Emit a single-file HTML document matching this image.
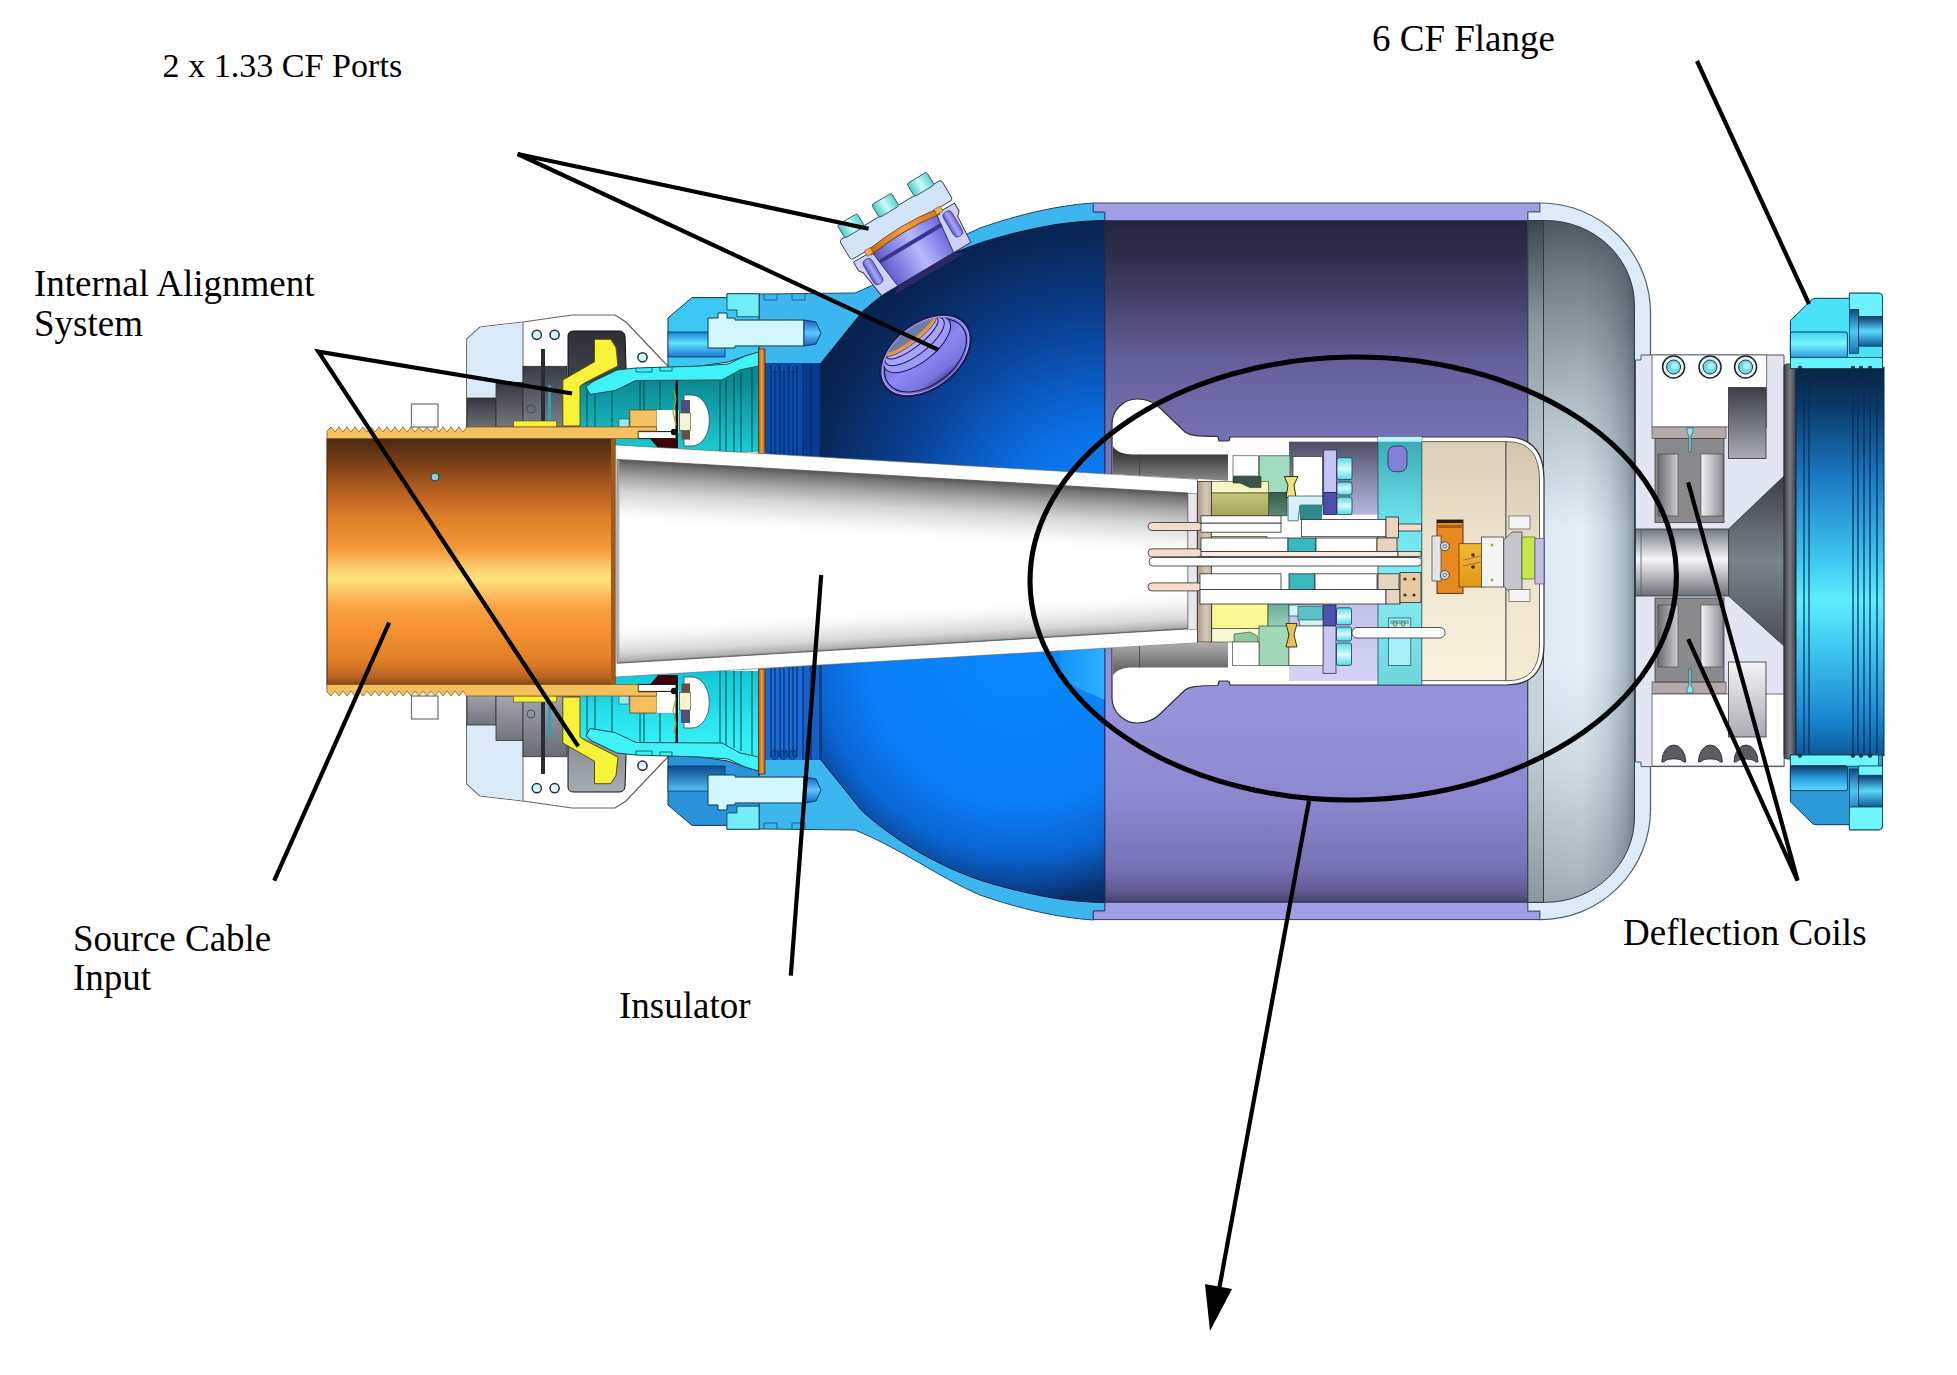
<!DOCTYPE html>
<html><head><meta charset="utf-8">
<style>
html,body{margin:0;padding:0;background:#fff;}
body{width:1957px;height:1375px;overflow:hidden;position:relative;}
svg{position:absolute;left:0;top:0;}
.t{font-family:"Liberation Serif",serif;font-size:37px;fill:#000;}
</style></head><body>
<svg width="1957" height="1375" viewBox="0 0 1957 1375">
<defs>
<linearGradient id="gOrange" x1="0" y1="438.5" x2="0" y2="684.5" gradientUnits="userSpaceOnUse">
<stop offset="0" stop-color="#4a2810"/><stop offset="0.1" stop-color="#7a4018"/><stop offset="0.217" stop-color="#b86020"/><stop offset="0.33" stop-color="#e08028"/><stop offset="0.45" stop-color="#f59838"/><stop offset="0.53" stop-color="#fcd070"/><stop offset="0.57" stop-color="#fde47a"/><stop offset="0.63" stop-color="#fcc060"/><stop offset="0.69" stop-color="#f8a040"/><stop offset="0.79" stop-color="#f49030"/><stop offset="0.9" stop-color="#e08028"/><stop offset="0.97" stop-color="#b86420"/><stop offset="1" stop-color="#8a4a18"/>
</linearGradient>
<linearGradient id="gIns" x1="0" y1="460" x2="0" y2="663" gradientUnits="userSpaceOnUse">
<stop offset="0" stop-color="#7a7a7a"/><stop offset="0.12" stop-color="#c4c4c4"/><stop offset="0.3" stop-color="#f4f4f4"/><stop offset="0.5" stop-color="#ffffff"/><stop offset="0.8" stop-color="#f4f4f4"/><stop offset="0.93" stop-color="#cfcfcf"/><stop offset="1" stop-color="#8a8a8a"/>
</linearGradient>
<linearGradient id="gPurple" x1="0" y1="221" x2="0" y2="902" gradientUnits="userSpaceOnUse">
<stop offset="0" stop-color="#25233c"/><stop offset="0.05" stop-color="#302d4c"/><stop offset="0.1" stop-color="#3e3a62"/><stop offset="0.15" stop-color="#524e80"/><stop offset="0.2" stop-color="#625e98"/><stop offset="0.27" stop-color="#706cac"/><stop offset="0.35" stop-color="#7874b6"/><stop offset="0.5" stop-color="#8480c4"/><stop offset="0.62" stop-color="#9490d8"/><stop offset="0.72" stop-color="#9894dc"/><stop offset="0.85" stop-color="#8c88d0"/><stop offset="0.95" stop-color="#7672b6"/><stop offset="0.985" stop-color="#5e5a90"/><stop offset="1" stop-color="#48446e"/>
</linearGradient>
<radialGradient id="gDome" cx="1100" cy="525" r="335" gradientUnits="userSpaceOnUse">
<stop offset="0" stop-color="#0a8aff"/><stop offset="0.3" stop-color="#0a6ee2"/><stop offset="0.6" stop-color="#0a4296"/><stop offset="0.85" stop-color="#08285a"/><stop offset="1" stop-color="#061c42"/>
</radialGradient>
<radialGradient id="gDomeB" cx="1020" cy="650" r="300" gradientUnits="userSpaceOnUse">
<stop offset="0" stop-color="#0a88ff"/><stop offset="0.55" stop-color="#0a7cf4"/><stop offset="0.8" stop-color="#0a58c0"/><stop offset="0.93" stop-color="#08367a"/><stop offset="1" stop-color="#082a62"/>
</radialGradient>
<linearGradient id="gDomeHi" x1="1040" y1="0" x2="1105" y2="0" gradientUnits="userSpaceOnUse"><stop offset="0" stop-color="#40d0ff" stop-opacity="0"/><stop offset="1" stop-color="#40d0ff" stop-opacity="0.6"/></linearGradient>
<radialGradient id="gCap" cx="1622" cy="590" r="1" gradientUnits="userSpaceOnUse" gradientTransform="translate(1622,590) scale(165,430) translate(-1622,-590)">
<stop offset="0" stop-color="#f2f9ff"/><stop offset="0.35" stop-color="#dae8f2"/><stop offset="0.65" stop-color="#a8b8c2"/><stop offset="0.85" stop-color="#7a8a94"/><stop offset="1" stop-color="#56646c"/>
</radialGradient>
<linearGradient id="gCapStrip" x1="0" y1="221" x2="0" y2="902" gradientUnits="userSpaceOnUse"><stop offset="0" stop-color="#3a4650"/><stop offset="0.15" stop-color="#8a98a0"/><stop offset="0.4" stop-color="#c8d4dc"/><stop offset="0.75" stop-color="#c8d4dc"/><stop offset="0.95" stop-color="#98a4ac"/><stop offset="1" stop-color="#8a969e"/></linearGradient>
<linearGradient id="gCapH" x1="1545" y1="0" x2="1635" y2="0" gradientUnits="userSpaceOnUse"><stop offset="0" stop-color="#e2eef8"/><stop offset="0.4" stop-color="#e8f4fc"/><stop offset="0.7" stop-color="#ccdce6"/><stop offset="0.9" stop-color="#a8b8c2"/><stop offset="1" stop-color="#8494a0"/></linearGradient>
<linearGradient id="gCapV" x1="0" y1="221" x2="0" y2="902" gradientUnits="userSpaceOnUse"><stop offset="0" stop-color="#26323a" stop-opacity="0.8"/><stop offset="0.08" stop-color="#26323a" stop-opacity="0.6"/><stop offset="0.26" stop-color="#26323a" stop-opacity="0.28"/><stop offset="0.45" stop-color="#26323a" stop-opacity="0.02"/><stop offset="0.65" stop-color="#26323a" stop-opacity="0.02"/><stop offset="0.8" stop-color="#26323a" stop-opacity="0.12"/><stop offset="0.95" stop-color="#26323a" stop-opacity="0.3"/><stop offset="1" stop-color="#26323a" stop-opacity="0.38"/></linearGradient>
<linearGradient id="gFlangeR" x1="0" y1="367" x2="0" y2="756" gradientUnits="userSpaceOnUse">
<stop offset="0" stop-color="#082440"/><stop offset="0.1" stop-color="#0a3a68"/><stop offset="0.28" stop-color="#1a78c0"/><stop offset="0.5" stop-color="#40c8f0"/><stop offset="0.6" stop-color="#5eeeff"/><stop offset="0.72" stop-color="#40c8f0"/><stop offset="0.9" stop-color="#1a88d0"/><stop offset="1" stop-color="#0a5a98"/>
</linearGradient>
<linearGradient id="gTube" x1="0" y1="529" x2="0" y2="596" gradientUnits="userSpaceOnUse">
<stop offset="0" stop-color="#707880"/><stop offset="0.45" stop-color="#f4f6f8"/><stop offset="1" stop-color="#6a7078"/>
</linearGradient>
<linearGradient id="gTeal" x1="0" y1="380" x2="0" y2="450" gradientUnits="userSpaceOnUse">
<stop offset="0" stop-color="#0a8890"/><stop offset="1" stop-color="#1ccad4"/>
</linearGradient>
<linearGradient id="gGreyV" x1="0" y1="0" x2="0" y2="1" >
<stop offset="0" stop-color="#4a4e58"/><stop offset="1" stop-color="#a0a4ae"/>
</linearGradient>
<!--EXTRA DEFS-->
<linearGradient id="gCream" x1="0" y1="441" x2="0" y2="681" gradientUnits="userSpaceOnUse">
<stop offset="0" stop-color="#dccfb6"/><stop offset="0.5" stop-color="#efe6d2"/><stop offset="1" stop-color="#faf2dc"/>
</linearGradient>
<linearGradient id="gCream2" x1="0" y1="441" x2="0" y2="681" gradientUnits="userSpaceOnUse">
<stop offset="0" stop-color="#d4c6ac"/><stop offset="0.5" stop-color="#ece2cc"/><stop offset="1" stop-color="#f6ecd4"/>
</linearGradient>
<linearGradient id="gDarkBlk" x1="0" y1="0" x2="0" y2="1"><stop offset="0" stop-color="#3a3e46"/><stop offset="1" stop-color="#a8acb4"/></linearGradient>
<linearGradient id="gLightBlk" x1="0" y1="0" x2="0" y2="1"><stop offset="0" stop-color="#f4f4f6"/><stop offset="1" stop-color="#a8acb4"/></linearGradient>
<linearGradient id="gCoilL" x1="0" y1="0" x2="1" y2="0"><stop offset="0" stop-color="#6a6e74"/><stop offset="1" stop-color="#c8ccd0"/></linearGradient>
<linearGradient id="gCoilR" x1="0" y1="0" x2="1" y2="0"><stop offset="0" stop-color="#f0f2f4"/><stop offset="1" stop-color="#8a8e94"/></linearGradient>
<linearGradient id="gCone" x1="0" y1="0" x2="0" y2="1"><stop offset="0" stop-color="#3a4048"/><stop offset="0.5" stop-color="#7a828a"/><stop offset="1" stop-color="#4a5058"/></linearGradient>
<linearGradient id="gPortCyl" x1="0" y1="0" x2="1" y2="0"><stop offset="0" stop-color="#5a56c8"/><stop offset="0.55" stop-color="#b8b8ff"/><stop offset="1" stop-color="#6a66d8"/></linearGradient>
<linearGradient id="gPortBolt" x1="0" y1="0" x2="1" y2="0"><stop offset="0" stop-color="#5a56c8"/><stop offset="0.5" stop-color="#a8a8f8"/><stop offset="1" stop-color="#6a66d8"/></linearGradient>
<linearGradient id="gBoltHead" x1="0" y1="0" x2="1" y2="0"><stop offset="0" stop-color="#50c8c8"/><stop offset="0.5" stop-color="#c8fcfc"/><stop offset="1" stop-color="#60d0d0"/></linearGradient>
<linearGradient id="gVp" x1="0" y1="-31" x2="0" y2="31" gradientUnits="userSpaceOnUse"><stop offset="0" stop-color="#5a56b4"/><stop offset="0.5" stop-color="#8c88f4"/><stop offset="0.85" stop-color="#7a76e0"/><stop offset="1" stop-color="#4a46a0"/></linearGradient>
<linearGradient id="gGreyV2" x1="0" y1="0" x2="0" y2="1"><stop offset="0" stop-color="#5a5e68"/><stop offset="1" stop-color="#9ea2ac"/></linearGradient>
<linearGradient id="gDarkBlk2" x1="0" y1="0" x2="0" y2="1"><stop offset="0" stop-color="#2e3038"/><stop offset="0.6" stop-color="#44464e"/><stop offset="1" stop-color="#70747c"/></linearGradient>
<linearGradient id="gFlBand" x1="0" y1="0" x2="0" y2="1"><stop offset="0" stop-color="#1a80d8"/><stop offset="0.45" stop-color="#5ee0ff"/><stop offset="1" stop-color="#1a74d0"/></linearGradient>
<linearGradient id="gBoltTip" x1="0" y1="0" x2="0" y2="1"><stop offset="0" stop-color="#1a60c8"/><stop offset="0.5" stop-color="#5ac8ff"/><stop offset="1" stop-color="#1a60c8"/></linearGradient>
<linearGradient id="gOrStrip" x1="0" y1="0" x2="1" y2="0"><stop offset="0" stop-color="#a85a10"/><stop offset="0.5" stop-color="#f0a040"/><stop offset="1" stop-color="#a85a10"/></linearGradient>
<linearGradient id="gCanGrey" x1="0" y1="454" x2="0" y2="481" gradientUnits="userSpaceOnUse"><stop offset="0" stop-color="#3a3a3a"/><stop offset="1" stop-color="#8a8a8a"/></linearGradient>
<linearGradient id="gCanGrey2" x1="0" y1="668" x2="0" y2="641" gradientUnits="userSpaceOnUse"><stop offset="0" stop-color="#6a6a6a"/><stop offset="1" stop-color="#b4b4b4"/></linearGradient>
<radialGradient id="gDomeBM" cx="1020" cy="473" r="255" gradientUnits="userSpaceOnUse">
<stop offset="0" stop-color="#0a8aff"/><stop offset="0.6" stop-color="#0a7ef6"/><stop offset="0.8" stop-color="#0a66d4"/><stop offset="0.9" stop-color="#0a4a9e"/><stop offset="1" stop-color="#082c64"/>
</radialGradient>
<linearGradient id="gBotBlk" x1="0" y1="0" x2="0" y2="1"><stop offset="0" stop-color="#a8acb4"/><stop offset="0.5" stop-color="#8a8e98"/><stop offset="1" stop-color="#60646e"/></linearGradient>
<linearGradient id="gLavTop" x1="0" y1="0" x2="0" y2="1"><stop offset="0" stop-color="#4c4c66"/><stop offset="0.5" stop-color="#8686a8"/><stop offset="1" stop-color="#b6b6e2"/></linearGradient>
<linearGradient id="gLavBot" x1="0" y1="0" x2="0" y2="1"><stop offset="0" stop-color="#c0c0ea"/><stop offset="1" stop-color="#d4d4f6"/></linearGradient>
<linearGradient id="gTealCol" x1="0" y1="0" x2="0" y2="1"><stop offset="0" stop-color="#3aa8b4"/><stop offset="0.35" stop-color="#6ce4ee"/><stop offset="0.6" stop-color="#86ecf2"/><stop offset="1" stop-color="#70d4de"/></linearGradient>
<linearGradient id="gCyBlk" x1="0" y1="0" x2="0" y2="1"><stop offset="0" stop-color="#5ad8e4"/><stop offset="0.5" stop-color="#d8fcff"/><stop offset="1" stop-color="#5ad8e4"/></linearGradient>
<linearGradient id="gDkGreen" x1="0" y1="0" x2="0" y2="1"><stop offset="0" stop-color="#3a5a4a"/><stop offset="1" stop-color="#5a8a7a"/></linearGradient>
<linearGradient id="gOlive" x1="0" y1="0" x2="0" y2="1"><stop offset="0" stop-color="#c8c878"/><stop offset="1" stop-color="#a4a45a"/></linearGradient>
<linearGradient id="gTanBar" x1="0" y1="0" x2="1" y2="0"><stop offset="0" stop-color="#a8988a"/><stop offset="0.6" stop-color="#d8c8b8"/><stop offset="1" stop-color="#c0b0a0"/></linearGradient>
<linearGradient id="gAmber" x1="0" y1="0" x2="0" y2="1"><stop offset="0" stop-color="#f4b830"/><stop offset="1" stop-color="#e09818"/></linearGradient>
<linearGradient id="gTealB" x1="0" y1="380" x2="0" y2="450" gradientUnits="userSpaceOnUse"><stop offset="0" stop-color="#34f0f8"/><stop offset="1" stop-color="#12c8d8"/></linearGradient>
<linearGradient id="gFlBandB" x1="0" y1="0" x2="0" y2="1"><stop offset="0" stop-color="#50c0f0"/><stop offset="1" stop-color="#0a4a8e"/></linearGradient>
<linearGradient id="gFBoltT" x1="0" y1="0" x2="0" y2="1"><stop offset="0" stop-color="#40d2f2"/><stop offset="0.45" stop-color="#78f8ff"/><stop offset="1" stop-color="#2a9ede"/></linearGradient>
<linearGradient id="gFBoltB" x1="0" y1="0" x2="0" y2="1"><stop offset="0" stop-color="#0a3a68"/><stop offset="0.5" stop-color="#2a9ee0"/><stop offset="1" stop-color="#58dcff"/></linearGradient>
<linearGradient id="gFThread" x1="0" y1="0" x2="0" y2="1"><stop offset="0" stop-color="#0a4a88"/><stop offset="0.5" stop-color="#50c8f4"/><stop offset="1" stop-color="#1a70b8"/></linearGradient>
<linearGradient id="gFNut" x1="0" y1="0" x2="0" y2="1"><stop offset="0" stop-color="#0a3a70"/><stop offset="0.5" stop-color="#5ad8ff"/><stop offset="1" stop-color="#0a5a98"/></linearGradient>
<linearGradient id="gGasket" x1="0" y1="0" x2="1" y2="0"><stop offset="0" stop-color="#c06a10"/><stop offset="0.5" stop-color="#f4a040"/><stop offset="1" stop-color="#d07818"/></linearGradient>
<linearGradient id="gGT1" x1="0" y1="0" x2="0" y2="1"><stop offset="0" stop-color="#33373f"/><stop offset="1" stop-color="#74787f"/></linearGradient>
<linearGradient id="gGT2" x1="0" y1="0" x2="0" y2="1"><stop offset="0" stop-color="#383c46"/><stop offset="1" stop-color="#7c808a"/></linearGradient>
<linearGradient id="gGB1" x1="0" y1="0" x2="0" y2="1"><stop offset="0" stop-color="#70747c"/><stop offset="1" stop-color="#a4a8b0"/></linearGradient>
<linearGradient id="gGB2" x1="0" y1="0" x2="0" y2="1"><stop offset="0" stop-color="#686c76"/><stop offset="1" stop-color="#a0a4ae"/></linearGradient>
<linearGradient id="gTGreen" x1="0" y1="0" x2="0" y2="1"><stop offset="0" stop-color="#6aa898"/><stop offset="1" stop-color="#9ad4bc"/></linearGradient>
<linearGradient id="gSep" x1="0" y1="0" x2="1" y2="0"><stop offset="0" stop-color="#3a3e44"/><stop offset="0.5" stop-color="#7a7e84"/><stop offset="1" stop-color="#3a3e44"/></linearGradient>
<linearGradient id="gInsTop" gradientUnits="userSpaceOnUse" x1="0" y1="423.2" x2="0" y2="488" gradientTransform="skewY(3.36)"><stop offset="0" stop-color="#555555"/><stop offset="0.08" stop-color="#747474"/><stop offset="0.28" stop-color="#a8a8a8"/><stop offset="0.5" stop-color="#d6d6d6"/><stop offset="0.75" stop-color="#f2f2f2"/><stop offset="1" stop-color="#ffffff" stop-opacity="0"/></linearGradient>
<linearGradient id="gInsBot" gradientUnits="userSpaceOnUse" x1="0" y1="700.5" x2="0" y2="660" gradientTransform="skewY(-3.45)"><stop offset="0" stop-color="#7a7a7a"/><stop offset="0.05" stop-color="#b0b0b0"/><stop offset="0.25" stop-color="#d8d8d8"/><stop offset="0.55" stop-color="#f0f0f0"/><stop offset="1" stop-color="#ffffff" stop-opacity="0"/></linearGradient>
<!--END EXTRA DEFS-->
</defs>
<rect width="1957" height="1375" fill="#fff"/>
<!-- device goes here -->
<g id="device">
<g style="--dome:url(#gDome);--blk:url(#gDarkBlk2);--rib1:#0a4aa8;--rib2:#0a3a8e;--teal:url(#gTeal);--fl:#3cc8f2;--flb:url(#gFlBand);--g1:url(#gGT1);--g2:url(#gGT2)"><g id="top">
<!-- light blue dome shell -->
<path d="M 759,294 L 855,293 C 900,275 940,245 980,228 C 1020,214 1060,205 1093.3,203 L 1093.3,212 L 1105,212 L 1105,562 L 759,562 Z" fill="#3cb6ee" stroke="#1a4a70" stroke-width="1"/>
<path d="M 764,294 L 764,300 L 777,300 L 777,294 M 792,294 L 792,300 L 805,300 L 805,294" fill="none" stroke="#1a4a70" stroke-width="0.8"/>
<!-- dark dome interior -->
<path d="M 821,363 L 862,312 C 900,278 950,250 1000,237 C 1040,226 1070,221 1105,220.5 L 1105,562 L 821,562 Z" style="fill:var(--dome)" stroke="#0a1a40" stroke-width="1"/>
<!-- ribbed -->
<rect x="765" y="363" width="56" height="95" style="fill:var(--rib1)"/>
<rect x="803" y="363" width="18" height="95" style="fill:var(--rib2)"/>
<g fill="#0a5ac0" stroke="#062a60" stroke-width="0.8">
<path d="M 771,372 L 771,366 Q 774.5,361 778,366 L 778,372 Z"/><path d="M 780,372 L 780,366 Q 783.5,361 787,366 L 787,372 Z"/><path d="M 789,372 L 789,366 Q 792.5,361 796,366 L 796,372 Z"/>
</g>
<g stroke="#062a60" stroke-width="1.1">
<line x1="771" y1="366" x2="771" y2="458"/><line x1="775" y1="366" x2="775" y2="458"/><line x1="780" y1="366" x2="780" y2="458"/><line x1="784" y1="366" x2="784" y2="458"/><line x1="789" y1="366" x2="789" y2="458"/><line x1="793" y1="366" x2="793" y2="458"/><line x1="797" y1="366" x2="797" y2="458"/><line x1="803" y1="363" x2="803" y2="458"/><line x1="811" y1="363" x2="811" y2="458"/><line x1="820" y1="363" x2="820" y2="458"/>
</g>
<!-- alignment housing -->
<path d="M 466.7,432 L 466.7,339 L 480,327 L 523,322 L 572,315 L 615,315 L 626,322 L 662,360 L 668,366 L 668,432 Z" fill="#ffffff" stroke="#606060" stroke-width="1.2"/>
<path d="M 467.3,339.3 L 480.3,327.6 L 522.6,322.6 L 522.6,382.6 L 496,382.6 L 496,398.3 L 467.3,398.3 Z" fill="#daeaf8"/>
<line x1="523" y1="322" x2="523" y2="398" stroke="#606060" stroke-width="1"/>
<rect x="467" y="398" width="29" height="34" style="fill:var(--g1)" stroke="#303030" stroke-width="0.8"/>
<rect x="496" y="382.6" width="27" height="44.4" style="fill:var(--g1)" stroke="#303030" stroke-width="0.8"/>
<rect x="523" y="366.3" width="44" height="60.7" style="fill:var(--g2)" stroke="#303030" stroke-width="0.8"/>
<rect x="541" y="349" width="4" height="74" fill="#2a2c34"/>
<circle cx="531" cy="409" r="4" fill="none" stroke="#405060" stroke-width="1"/>
<rect x="548" y="385" width="3" height="38" fill="#30a0b0"/>
<path d="M 568,427 L 568,336 Q 568,331 574,331 L 619,331 Q 624,331 625,336 L 628,427 Z" style="fill:var(--blk)" stroke="#101010" stroke-width="1"/>
<g fill="#d8f8fc" stroke="#203040" stroke-width="1.5">
<circle cx="536.8" cy="334.8" r="4.6"/><circle cx="554.6" cy="334.8" r="4.6"/><circle cx="642.5" cy="357.3" r="4.6"/>
</g>
<!-- teal region -->
<path d="M 580,386 L 592,382 L 617,370 L 700,366 L 728,364 L 745,356 L 759,352 L 759,452 L 580,452 Z" style="fill:var(--teal)"/>
<g stroke="#064a4c" stroke-width="1">
<line x1="587" y1="386" x2="587" y2="427"/><line x1="595" y1="390" x2="595" y2="427"/><line x1="612" y1="390" x2="612" y2="427"/><line x1="640" y1="380" x2="640" y2="410"/><line x1="644" y1="380" x2="644" y2="410"/><line x1="660" y1="380" x2="660" y2="410"/><line x1="720" y1="380" x2="720" y2="452"/><line x1="726" y1="376" x2="726" y2="452"/><line x1="734" y1="375" x2="734" y2="452"/><line x1="741" y1="372" x2="741" y2="452"/><line x1="752" y1="368" x2="752" y2="452"/>
</g>
<!-- flange block -->
<path d="M 668,370 L 668,318 L 692,297.6 L 727,297.6 L 727,293.8 L 759,293.8 L 759,352 L 745,356 L 728,362 L 700,366 Z" style="fill:var(--fl)" stroke="#0a3a5a" stroke-width="1"/>
<rect x="668" y="332" width="57" height="25" style="fill:var(--flb)" stroke="#0a3a5a" stroke-width="0.8"/>
<path d="M 727,293.8 L 759,293.8 L 759,316.8 L 737,316.8 L 737,310 L 727,310 Z" fill="#72eef8" stroke="#0a3a5a" stroke-width="0.8"/>
<!-- cyan band -->
<path d="M 586,387 L 592,382 L 617,370 L 636,368 L 700,366 L 728,364 L 745,356 L 758.5,352 L 758.5,366 L 740,370 L 722,380 L 636,380.5 L 615,390.5 L 590,394.5 Z" fill="#3ef2f8" stroke="#0a4a50" stroke-width="1"/>
<path d="M 636,368 L 636,372 L 652,372 L 652,368 M 660,367 L 660,371 L 672,371 L 672,367" fill="none" stroke="#0a4a50" stroke-width="0.8"/>
<!-- bolt -->
<path d="M 708,318 L 718,318 L 718,313 L 727,313 L 727,318 L 735,318 L 735,320 L 804,320 L 804,346 L 735,346 L 735,348 L 708,348 Z" fill="#d2f8ff" stroke="#0a3a5a" stroke-width="1"/>
<path d="M 804,320 L 816,322 L 821,333 L 816,344 L 804,346 Z" fill="url(#gBoltTip)" stroke="#0a3a5a" stroke-width="1"/>
<path d="M 735,320 L 804,320 M 735,346 L 804,346" stroke="#5a7a8a" stroke-width="1.5" stroke-dasharray="1.5,1.5"/>
<!-- orange strip -->
<rect x="758.5" y="349" width="6.5" height="105" fill="url(#gOrStrip)" stroke="#5a3008" stroke-width="0.8"/>
<!-- yellow piece -->
<path d="M 594.5,339.3 L 610.8,339.3 L 616,347.5 L 618,366 L 586.3,382 L 580,386 L 580,426 L 562.8,426 L 562.8,380 L 594.5,361.8 Z" fill="#f8f238" stroke="#5a5000" stroke-width="1"/>
<rect x="513.7" y="421" width="43" height="6" fill="#f8f038" stroke="#5a5000" stroke-width="0.6"/>
<!-- small items near insulator top-left -->
<path d="M 629.8,410 L 656.6,410 L 656.6,427 L 629.8,427 Z" fill="#f4c060" stroke="#704010" stroke-width="0.8"/>
<rect x="619" y="419" width="10" height="8" fill="#a0e8f0" stroke="#305058" stroke-width="0.6"/>
<rect x="656.6" y="410" width="22" height="23" fill="#ffffff"/>
<rect x="638" y="431.6" width="38.6" height="7" fill="#ffffff" stroke="#101010" stroke-width="1"/>
<path d="M 650,438.6 L 676.6,438.6 L 676.6,448 L 658,448 Z" fill="#3c0608"/>

<path d="M 684,395 L 692,395 A 17,25 0 0 1 692,446 L 684,446 Z" fill="#ffffff" stroke="#404060" stroke-width="0.8"/>
<rect x="681" y="400" width="9" height="13" fill="#505078"/>
<rect x="679.6" y="413" width="11" height="17.4" fill="#f8f4d0" stroke="#404040" stroke-width="0.6"/>
<rect x="681.5" y="430.4" width="8.5" height="9.2" fill="#6a5040"/>
<rect x="675.5" y="380" width="2.5" height="68" fill="#101010"/>
<circle cx="674" cy="432" r="3.2" fill="#101010"/>
<path d="M 674,390 L 676,400 L 673,412 L 676,425" fill="none" stroke="#a0a020" stroke-width="1.2"/>
</g>
</g>
<use href="#top" transform="matrix(1,0,0,-1,0,1123)" style="--dome:url(#gDomeBM);--blk:url(#gBotBlk);--rib1:#1a6ad8;--rib2:#1560c8;--teal:url(#gTealB);--fl:#2a92da;--flb:url(#gFlBandB);--g1:url(#gGB1);--g2:url(#gGB2)"/>
<path d="M 1060,640 L 1105,640 L 1105,700 L 1060,680 Z" fill="url(#gDomeHi)"/>
<!-- purple cylinder -->
<rect x="1104.9" y="220.5" width="423" height="681.8" fill="url(#gPurple)" stroke="#2a2850" stroke-width="1"/>
<path d="M 1093.3,203 L 1539.8,203 L 1539.8,212 L 1527.8,212 L 1527.8,220.5 L 1104.9,220.5 L 1104.9,212 L 1093.3,212 Z" fill="#a29ee6" stroke="#3e3a70" stroke-width="1"/>
<path d="M 1093.3,919.6 L 1539.8,919.6 L 1539.8,911 L 1527.8,911 L 1527.8,902.3 L 1104.9,902.3 L 1104.9,911 L 1093.3,911 Z" fill="#a29ee6" stroke="#3e3a70" stroke-width="1"/>
<!-- end cap -->
<path d="M 1527.8,212 L 1539.8,212 L 1539.8,203 L 1540.5,203 A 110,110 0 0 1 1650.5,313 L 1650.5,809.6 A 110,110 0 0 1 1540.5,919.6 L 1539.8,919.6 L 1539.8,911 L 1527.8,911 Z" fill="#dcecf8" stroke="#506070" stroke-width="1.2"/>
<path d="M 1527.8,220.5 L 1545.5,220.5 A 89,85 0 0 1 1634.5,305.5 L 1634.5,817 A 89,85 0 0 1 1545.5,902.3 L 1527.8,902.3 Z" fill="url(#gCapH)"/>
<path d="M 1527.8,220.5 L 1545.5,220.5 A 89,85 0 0 1 1634.5,305.5 L 1634.5,817 A 89,85 0 0 1 1545.5,902.3 L 1527.8,902.3 Z" fill="url(#gCapV)" stroke="#303a44" stroke-width="1"/>
<rect x="1527.8" y="220.5" width="15.7" height="681.8" fill="url(#gCapStrip)" stroke="#303a44" stroke-width="1"/>
<!-- gun can -->
<path d="M 1112,456 L 1112,424 C 1112,410 1124,399 1137,399 C 1148,399 1155,403 1160,408 L 1185,432 C 1189,435 1195,436.5 1218,436.5 L 1219,441 L 1229,441 L 1230,437 L 1506,437 Q 1544,437 1544,479.5 L 1544,644.5 Q 1544,685 1506,685 L 1230,685 L 1229,681 L 1219,681 L 1218,685.5 C 1195,685.5 1189,687 1185,690 L 1160,714 C 1155,719 1148,723 1137,723 C 1124,723 1112,712 1112,698 L 1112,650 Z" fill="#ffffff" stroke="#303030" stroke-width="1.2"/>
<path d="M 1112.7,446 C 1116,452 1124,454.4 1133,454.4 L 1232.3,454.4 L 1232.3,481 L 1112.7,474 Z" fill="url(#gCanGrey)"/>
<path d="M 1112.7,676 C 1116,670 1124,667.6 1133,667.6 L 1232.3,667.6 L 1232.3,641 L 1112.7,648 Z" fill="url(#gCanGrey2)"/>
<line x1="1139.5" y1="454.4" x2="1139.5" y2="476" stroke="#404040" stroke-width="0.8"/>
<line x1="1139.5" y1="667.6" x2="1139.5" y2="646" stroke="#404040" stroke-width="0.8"/>
<!-- insulator white band + cone -->
<path d="M 612,444.7 L 1197.5,479.3 L 1197.5,642.8 L 612,677.2 Z" fill="#ffffff" stroke="#606060" stroke-width="0.6"/>
<path d="M 617,459.4 L 1188,493 L 1188,628.9 L 617,663.3 Z" fill="#ffffff"/>
<path d="M 617,459.4 L 1188,493 L 1188,628.9 L 617,663.3 Z" fill="url(#gInsTop)"/>
<path d="M 617,459.4 L 1188,493 L 1188,628.9 L 617,663.3 Z" fill="url(#gInsBot)" stroke="#505050" stroke-width="0.8"/>
<rect x="1188" y="493.5" width="9" height="136" fill="#e8e8ec" stroke="#707070" stroke-width="0.6"/>
<rect x="617" y="460" width="2.5" height="203" fill="#a0a0a0" opacity="0.7"/>
<!-- orange cylinder -->
<rect x="327" y="438.5" width="288" height="246" fill="url(#gOrange)" stroke="#5a3010" stroke-width="1.2"/>
<rect x="611" y="438.5" width="4" height="246" fill="#a05a18"/>
<!-- thread bands -->
<path d="M 327,438.5 L 327,431 L 331,427 L 335,432 L 339,427 L 343,432 L 347,427 L 351,432 L 355,427 L 359,432 L 363,427 L 367,432 L 371,427 L 375,432 L 379,427 L 383,432 L 387,427 L 391,432 L 395,427 L 399,432 L 403,427 L 407,432 L 411,427 L 415,432 L 419,427 L 423,432 L 427,427 L 431,432 L 435,427 L 439,432 L 443,427 L 447,432 L 451,427 L 455,432 L 459,427 L 463,432 L 467,427 L 656.6,427 L 656.6,431 L 638,431 L 638,438.5 Z" fill="#f5c060" stroke="#8a5a18" stroke-width="0.8"/>
<path d="M 327,684.5 L 327,692 L 331,696 L 335,691 L 339,696 L 343,691 L 347,696 L 351,691 L 355,696 L 359,691 L 363,696 L 367,691 L 371,696 L 375,691 L 379,696 L 383,691 L 387,696 L 391,691 L 395,696 L 399,691 L 403,696 L 407,691 L 411,696 L 415,691 L 419,696 L 423,691 L 427,696 L 431,691 L 435,696 L 439,691 L 443,696 L 447,691 L 451,696 L 455,691 L 459,696 L 463,691 L 467,696 L 656.6,696 L 656.6,692 L 638,692 L 638,684.5 Z" fill="#f5c060" stroke="#8a5a18" stroke-width="0.8"/>
<rect x="411.5" y="404" width="26.5" height="23" fill="#fff" stroke="#707070" stroke-width="1.2"/>
<rect x="411.5" y="696" width="26.5" height="23" fill="#fff" stroke="#707070" stroke-width="1.2"/>
<circle cx="435" cy="477" r="4" fill="#7ad8e0" stroke="#204050" stroke-width="1"/>
<!-- inner can body -->
<rect x="1228" y="441.7" width="278" height="239" fill="#ffffff"/>
<rect x="1421" y="441.7" width="85" height="239" fill="url(#gCream)" stroke="#404040" stroke-width="0.8"/>
<path d="M 1506,441.7 L 1508,441.7 Q 1539.5,441.7 1539.5,480 L 1539.5,644 Q 1539.5,680.7 1508,680.7 L 1506,680.7 Z" fill="url(#gCream2)" stroke="#404040" stroke-width="0.8"/>
<!-- lavender-grey regions -->
<rect x="1289" y="441.7" width="89" height="73" fill="url(#gLavTop)"/>
<rect x="1289" y="602.6" width="89" height="78.4" fill="url(#gLavBot)"/>
<!-- teal column -->
<rect x="1378" y="436.7" width="43.8" height="248.3" fill="url(#gTealCol)" stroke="#2a6068" stroke-width="0.9"/>
<rect x="1378" y="436.7" width="43.8" height="5" fill="#b8f4f8"/>
<rect x="1388" y="446" width="19" height="25.7" rx="7" fill="#8480d8" stroke="#2a4070" stroke-width="1"/>
<rect x="1388.5" y="618" width="22.3" height="47.4" fill="#a8f0f8" stroke="#2a6068" stroke-width="0.8"/>
<rect x="1390" y="620" width="19" height="4" fill="#5ac8d0"/>
<circle cx="1395" cy="624" r="2" fill="#d0d080" stroke="#404020" stroke-width="0.6"/><circle cx="1403" cy="624" r="2" fill="#d0d080" stroke="#404020" stroke-width="0.6"/>
<!-- upper stack -->
<rect x="1293" y="456.4" width="29.5" height="40.4" fill="#ffffff" stroke="#303030" stroke-width="0.7"/>
<rect x="1323.7" y="450" width="12.8" height="42.5" fill="#c4c4f4" stroke="#303060" stroke-width="0.8"/>
<rect x="1323.7" y="492.5" width="12.8" height="22" fill="#4e4eaa" stroke="#202050" stroke-width="0.8"/>
<g stroke="#1a5058" stroke-width="0.9">
<rect x="1337" y="457.6" width="15" height="22" rx="2" fill="url(#gCyBlk)"/><rect x="1337" y="482" width="15" height="13" rx="2" fill="url(#gCyBlk)"/><rect x="1337" y="497" width="15" height="17.6" rx="2" fill="url(#gCyBlk)"/>
<rect x="1336.5" y="607.8" width="15" height="17" rx="2" fill="url(#gCyBlk)"/><rect x="1336.5" y="627" width="15" height="14" rx="2" fill="url(#gCyBlk)"/><rect x="1336.5" y="643" width="15" height="22.4" rx="2" fill="url(#gCyBlk)"/>
</g>
<rect x="1323" y="605" width="13" height="21" fill="#5050b0" stroke="#202050" stroke-width="0.8"/>
<rect x="1323" y="626" width="13" height="47.3" fill="#c8c8f2" stroke="#303060" stroke-width="0.8"/>
<rect x="1233" y="455.8" width="25.7" height="20.2" fill="#ffffff" stroke="#303030" stroke-width="0.6"/>
<rect x="1259.3" y="455.8" width="30.7" height="36.7" fill="#a2dcc0" stroke="#2a4a3a" stroke-width="0.7"/>
<rect x="1268.5" y="492.5" width="18.5" height="23.3" fill="url(#gDkGreen)" stroke="#1a3a2a" stroke-width="0.6"/>
<rect x="1211.5" y="481.5" width="57" height="11.5" fill="#f6f6c2" stroke="#404020" stroke-width="0.6"/>
<rect x="1211.5" y="493" width="57" height="22.8" fill="url(#gOlive)" stroke="#404020" stroke-width="0.7"/>
<path d="M 1233,476.6 L 1261,476.6 L 1261,487.6 L 1250,487.6 L 1240,483 L 1233,483 Z" fill="#3c5444" stroke="#1a2a20" stroke-width="0.6"/>
<path d="M 1284.4,476.6 L 1298,476.6 L 1294,485 L 1296,497.5 L 1286,497.5 L 1288,485 Z" fill="#f0e27a" stroke="#302a00" stroke-width="1"/>
<path d="M 1288,496 L 1322.5,496 L 1322.5,505 L 1300,505 L 1298,520.8 L 1288,520.8 Z" fill="#d4f2f8" stroke="#1a4a50" stroke-width="0.7"/>
<rect x="1300" y="505" width="22" height="15" fill="#2a8a8c"/>
<!-- lower stack -->
<rect x="1211.8" y="602.6" width="56.2" height="26" fill="#f8f894" stroke="#404020" stroke-width="0.7"/>
<rect x="1211.8" y="628.6" width="56.2" height="13.4" fill="#f8f8d2" stroke="#404020" stroke-width="0.6"/>
<path d="M 1234,634 L 1250,632 L 1257.6,636 L 1257.6,644.5 L 1234,644.5 Z" fill="#90c8a0" stroke="#2a4a3a" stroke-width="0.6"/>
<rect x="1268" y="602.6" width="21" height="26" fill="url(#gTGreen)" stroke="#1a3a2a" stroke-width="0.6"/>
<rect x="1259" y="626" width="30" height="39.4" fill="#a0d8b8" stroke="#2a4a3a" stroke-width="0.7"/>
<rect x="1232.7" y="642" width="26.3" height="23.4" fill="#ffffff" stroke="#303030" stroke-width="0.6"/>
<path d="M 1289,605 L 1323,605 L 1323,626 L 1300,626 L 1298,616 L 1289,616 Z" fill="#d4f2f8" stroke="#1a4a50" stroke-width="0.7"/>
<rect x="1298" y="606.6" width="24.5" height="13.4" fill="#5cc0c8" stroke="#1a4a50" stroke-width="0.6"/>
<rect x="1289" y="626" width="34" height="39.4" fill="#ffffff" stroke="#303030" stroke-width="0.6"/>
<path d="M 1286,623.5 L 1297,623.5 L 1294,635 L 1297,647 L 1286,647 L 1289,635 Z" fill="#e8c060" stroke="#302a00" stroke-width="0.9"/>
<rect x="1197.5" y="481.5" width="14" height="160.5" fill="url(#gTanBar)" stroke="#403020" stroke-width="0.8"/>
<!-- rods -->
<g stroke="#2a2a2a" stroke-width="0.8">
<rect x="1148" y="522.5" width="54" height="8" rx="4" fill="#f6dccc"/>
<rect x="1148" y="548.8" width="54" height="8" rx="4" fill="#f6dccc"/>
<rect x="1148" y="582.9" width="54" height="8" rx="4" fill="#f6dccc"/>
<rect x="1201" y="515.8" width="80" height="7.4" fill="#ffffff"/>
<rect x="1201" y="523.2" width="80" height="9" fill="#ffffff"/>
<rect x="1301.6" y="519.5" width="84.4" height="17.2" fill="#ffffff"/>
<rect x="1386" y="517" width="12.5" height="21" fill="#e8d4c0"/>
<rect x="1398.5" y="524" width="23" height="7" fill="#f4dccc"/>
<rect x="1211.5" y="536.7" width="55.5" height="4.5" fill="#f0f0b0"/>
<rect x="1201" y="538" width="87" height="13.4" fill="#ffffff"/>
<rect x="1288" y="538" width="28" height="13.4" fill="#3ab8c0"/>
<rect x="1316" y="538" width="61" height="13.4" fill="#ffffff"/>
<rect x="1377" y="538" width="20" height="13.4" fill="#e8d4c0"/>
<rect x="1201" y="551.4" width="197" height="5" fill="#f8ece4"/>
<rect x="1398" y="551.4" width="23" height="5" fill="#f4dccc"/>
<rect x="1149" y="557.5" width="272.8" height="8.5" rx="4" fill="#ffffff"/>
<rect x="1200" y="573.8" width="81" height="15.7" fill="#ffffff"/>
<rect x="1289" y="573.8" width="26" height="15.7" fill="#3ab8c0"/>
<rect x="1315" y="573.8" width="62" height="15.7" fill="#ffffff"/>
<rect x="1378" y="573.8" width="21" height="15.7" fill="#e8d4c0"/>
<rect x="1200" y="589.5" width="186" height="14.5" fill="#ffffff"/>
<rect x="1386" y="589.5" width="14" height="14.5" fill="#e8d4c0"/>
<rect x="1400" y="572.5" width="21" height="30" fill="#e8c8a0"/>
<rect x="1352" y="627.5" width="93" height="10.5" rx="5" fill="#ffffff"/>
</g>
<g fill="#4a3a2a"><circle cx="1405" cy="579" r="1.6"/><circle cx="1414" cy="579" r="1.6"/><circle cx="1405" cy="595" r="1.6"/><circle cx="1414" cy="595" r="1.6"/></g>
<!-- orange block and beam parts -->
<rect x="1437" y="520" width="26" height="73.4" fill="#e88a20" stroke="#5a3008" stroke-width="1"/>
<rect x="1437" y="520" width="26" height="3" fill="#202020"/>
<rect x="1437" y="525" width="26" height="3" fill="#b05a10"/>
<rect x="1432" y="536" width="9" height="45" fill="#e4e4e8" stroke="#404040" stroke-width="0.7"/>
<circle cx="1444.8" cy="546.3" r="4.5" fill="#d8d8d8" stroke="#404040" stroke-width="0.9"/><circle cx="1444.8" cy="546.3" r="1.8" fill="none" stroke="#404040" stroke-width="0.6"/>
<circle cx="1444.8" cy="575" r="4.5" fill="#d8d8d8" stroke="#404040" stroke-width="0.9"/><circle cx="1444.8" cy="575" r="1.8" fill="none" stroke="#404040" stroke-width="0.6"/>
<rect x="1459" y="543.7" width="24" height="43.3" fill="url(#gAmber)" stroke="#5a4008" stroke-width="0.8"/>
<circle cx="1473" cy="555" r="1.8" fill="#3a3010"/><circle cx="1473" cy="567" r="1.8" fill="#3a3010"/>
<rect x="1481.5" y="537" width="22.2" height="50" fill="#f4f4f4" stroke="#404040" stroke-width="0.8"/>
<circle cx="1492" cy="545" r="1.5" fill="#b0a030"/><circle cx="1492" cy="580" r="1.5" fill="#b0a030"/>
<path d="M 1503.7,540 L 1512,532 L 1522,532 L 1522,594.7 L 1512,594.7 L 1503.7,586 Z" fill="#c4c6cc" stroke="#404040" stroke-width="0.8"/>
<rect x="1509" y="516" width="21" height="13" fill="#f4f4f4" stroke="#404040" stroke-width="0.6"/>
<rect x="1509" y="589.5" width="21" height="12" fill="#f4f4f4" stroke="#404040" stroke-width="0.6"/>
<rect x="1522" y="537" width="13" height="42" fill="#c4e84a" stroke="#405020" stroke-width="0.6"/>
<rect x="1535" y="538.4" width="9" height="45.6" fill="#c4bcea" stroke="#404070" stroke-width="0.6"/>
<path d="M 1463,560 L 1481,556 M 1463,566 L 1481,562" stroke="#a07050" stroke-width="1"/>
<!-- coil housing -->
<path d="M 1635.5,360 L 1641,360 L 1641,355 L 1784,355 L 1784,766.6 L 1641,766.6 L 1641,762 L 1635.5,762 Z" fill="#e2e6f2" stroke="#505560" stroke-width="1"/>
<rect x="1652" y="355" width="114.7" height="72" fill="#ffffff" stroke="#505560" stroke-width="0.8"/>
<rect x="1652" y="694" width="132" height="72" fill="#ffffff" stroke="#505560" stroke-width="0.8"/>
<g fill="#eef4f6" stroke="#1a2228" stroke-width="1.5">
<circle cx="1673.6" cy="367" r="11"/><circle cx="1710" cy="367" r="11"/><circle cx="1745.6" cy="367" r="11"/>
</g>
<g fill="#72d8e2" stroke="#1a3a44" stroke-width="1">
<circle cx="1673.6" cy="367" r="7"/><circle cx="1710" cy="367" r="7"/><circle cx="1745.6" cy="367" r="7"/>
</g>
<g fill="#a8eef4"><circle cx="1674.6" cy="366" r="3.5"/><circle cx="1711" cy="366" r="3.5"/><circle cx="1746.6" cy="366" r="3.5"/></g>
<g fill="#5a5e64" stroke="#202428" stroke-width="0.8">
<path d="M 1661.8,762 A 12,17 0 0 1 1685.8,762 L 1683.5,762 A 10,4 0 0 0 1664,762 Z"/>
<path d="M 1698.4,762 A 12,17 0 0 1 1722.4,762 L 1720,762 A 10,4 0 0 0 1700.6,762 Z"/>
<path d="M 1734,762 A 12,17 0 0 1 1758,762 L 1755.6,762 A 10,4 0 0 0 1736.4,762 Z"/>
</g>
<rect x="1728.6" y="387.5" width="37.4" height="71" fill="url(#gDarkBlk)" stroke="#303038" stroke-width="0.8"/>
<rect x="1728.6" y="662" width="37.4" height="75" fill="url(#gLightBlk)" stroke="#303038" stroke-width="0.8"/>
<rect x="1652" y="427" width="74" height="11.5" fill="#b4aaaa" stroke="#404040" stroke-width="0.6"/>
<rect x="1652" y="682" width="74" height="11.5" fill="#b4aaaa" stroke="#404040" stroke-width="0.6"/>
<rect x="1655" y="438.5" width="69" height="84" fill="#8a8a8c" stroke="#404040" stroke-width="0.8"/>
<rect x="1655" y="598" width="69" height="84" fill="#8a8a8c" stroke="#404040" stroke-width="0.8"/>
<rect x="1658" y="454" width="20" height="62" fill="url(#gCoilL)" stroke="#404040" stroke-width="0.6"/>
<rect x="1701" y="454" width="22" height="62" fill="url(#gCoilR)" stroke="#404040" stroke-width="0.6"/>
<rect x="1658" y="605" width="20" height="62" fill="url(#gCoilL)" stroke="#404040" stroke-width="0.6"/>
<rect x="1701" y="605" width="22" height="62" fill="url(#gCoilR)" stroke="#404040" stroke-width="0.6"/>
<path d="M 1687,428 L 1693,428 L 1693,432 L 1691,436 L 1691,452 L 1689,452 L 1689,436 L 1687,432 Z" fill="#8ae8f0" stroke="#204050" stroke-width="0.6"/>
<path d="M 1687,693 L 1693,693 L 1693,689 L 1691,685 L 1691,669 L 1689,669 L 1689,685 L 1687,689 Z" fill="#8ae8f0" stroke="#204050" stroke-width="0.6"/>
<!-- tube and cone -->
<path d="M 1728.6,529 L 1784,476 L 1784,646 L 1728.6,596 Z" fill="url(#gCone)" stroke="#303038" stroke-width="0.8"/>
<rect x="1635.5" y="529" width="93.1" height="67" fill="url(#gTube)" stroke="#303038" stroke-width="0.8"/>
<line x1="1641" y1="529" x2="1641" y2="596" stroke="#505860" stroke-width="0.8"/>
<!-- dark separator -->
<rect x="1784" y="364" width="12" height="395" rx="3" fill="url(#gSep)" stroke="#202428" stroke-width="0.8"/>
<!-- flange ring -->
<rect x="1796" y="367.5" width="88" height="388" fill="url(#gFlangeR)" stroke="#0a2a50" stroke-width="1"/>
<g stroke="#0a2a5a" stroke-width="1.2">
<line x1="1804" y1="370" x2="1804" y2="753"/><line x1="1809" y1="370" x2="1809" y2="753"/><line x1="1853" y1="370" x2="1853" y2="753"/><line x1="1858" y1="370" x2="1858" y2="753"/><line x1="1864" y1="370" x2="1864" y2="753"/><line x1="1870" y1="370" x2="1870" y2="753"/><line x1="1877" y1="370" x2="1877" y2="753"/>
</g>
<!-- top flange blocks -->
<path d="M 1790.4,320.7 L 1812,299.5 Q 1814,298.3 1816,298.3 L 1849.4,298.3 L 1849.4,293.2 L 1879,293.2 Q 1882.5,293.2 1882.5,297 L 1882.5,368.6 L 1790.4,368.6 Z" fill="#4ae2f6" stroke="#0a3a50" stroke-width="1"/>
<path d="M 1849.4,293.2 L 1879,293.2 Q 1882.5,293.2 1882.5,297 L 1882.5,316.6 L 1858.6,316.6 L 1858.6,309.5 L 1849.4,309.5 Z" fill="#6cf2fc" stroke="#0a3a50" stroke-width="0.8"/>
<rect x="1790.4" y="332" width="57" height="25.4" rx="2" fill="url(#gFBoltT)" stroke="#0a3a50" stroke-width="1"/>
<rect x="1849.4" y="309.5" width="9.2" height="43.8" fill="url(#gFThread)" stroke="#0a3a50" stroke-width="0.8"/>
<rect x="1858.6" y="316.6" width="23.9" height="29.6" fill="url(#gFNut)" stroke="#0a3a50" stroke-width="0.8"/>
<rect x="1790.4" y="357.4" width="92" height="11.2" fill="#64f2fc" stroke="#0a3a50" stroke-width="0.8"/>
<g fill="#0a3050"><circle cx="1800" cy="368" r="2.2"/><circle cx="1853" cy="368" r="2.2"/><circle cx="1861" cy="368" r="2.2"/><circle cx="1870" cy="368" r="2.2"/></g>
<!-- bottom flange blocks -->
<path d="M 1790.4,755 L 1882.5,755 L 1882.5,826 Q 1882.5,829.8 1879,829.8 L 1849.4,829.8 L 1849.4,824.7 L 1816,824.7 Q 1813.8,824.7 1812,823 L 1790.4,801.8 Z" fill="#2a9ad8" stroke="#0a3a50" stroke-width="1"/>
<rect x="1790.4" y="755" width="88" height="11.2" fill="#6cf6fc" stroke="#0a3a50" stroke-width="0.8"/>
<rect x="1790.4" y="765.7" width="57" height="24.9" rx="2" fill="url(#gFBoltB)" stroke="#0a3a50" stroke-width="1"/>
<rect x="1849.4" y="769" width="9.2" height="44" fill="url(#gFThread)" stroke="#0a3a50" stroke-width="0.8"/>
<rect x="1858.6" y="775.3" width="23.9" height="31.7" fill="url(#gFNut)" stroke="#0a3a50" stroke-width="0.8"/>
<path d="M 1858.6,766 L 1882.5,766 L 1882.5,775.3 L 1858.6,775.3 Z M 1849.4,807 L 1882.5,807 L 1882.5,826 Q 1882.5,829.8 1879,829.8 L 1849.4,829.8 Z" fill="#70f6fc" stroke="#0a3a50" stroke-width="0.8"/>
<g fill="#0a3050"><circle cx="1800" cy="755.5" r="2.2"/><circle cx="1853" cy="755.5" r="2.2"/><circle cx="1861" cy="755.5" r="2.2"/><circle cx="1870" cy="755.5" r="2.2"/></g>
<!-- port 1 (tilted flange) -->
<g transform="translate(839.3,240.4) rotate(-30.8)">
<path d="M 1,26 L 118,27 L 118,36 L 114,40 L 112,69 L 8,69 L 4,40 L 1,36 Z" fill="#d0d0f6" stroke="#303060" stroke-width="0.9"/>
<path d="M 22,26 L 97,26 L 92,69 L 27,69 Z" fill="url(#gPortCyl)" stroke="#202050" stroke-width="0.8"/>
<rect x="24" y="37" width="72" height="4" fill="#3a3690"/>
<rect x="8" y="30" width="10" height="28" rx="4" fill="url(#gPortBolt)" stroke="#303070" stroke-width="0.7"/>
<rect x="101" y="30" width="10" height="28" rx="4" fill="url(#gPortBolt)" stroke="#303070" stroke-width="0.7"/>
<rect x="0" y="0" width="118.4" height="23" rx="3" fill="#d4e4f8" stroke="#304060" stroke-width="0.9"/>
<path d="M 20,23 Q 60,17 100,23 L 100,29 Q 60,23 20,29 Z" fill="url(#gGasket)" stroke="#603010" stroke-width="0.7"/>
<rect x="16" y="22" width="7" height="6" fill="#f0b050" stroke="#603010" stroke-width="0.5"/>
<rect x="97" y="22" width="7" height="6" fill="#f0b050" stroke="#603010" stroke-width="0.5"/>
<g fill="url(#gBoltHead)" stroke="#205050" stroke-width="0.8">
<rect x="6" y="-14" width="23" height="15" rx="2"/><rect x="46" y="-14" width="23" height="15" rx="2"/><rect x="87" y="-14" width="23" height="15" rx="2"/>
</g>
<path d="M 27,69 L 92,69 L 100,75 L 20,75 Z" fill="#2a2866"/>
</g>
<!-- port 2 (viewport) -->
<g transform="translate(925.5,355.5) rotate(-37.6)">
<clipPath id="vpClip"><ellipse cx="0" cy="0" rx="48" ry="30.5"/></clipPath>
<ellipse cx="0" cy="0" rx="52.5" ry="34" fill="#1c1a58"/>
<ellipse cx="0" cy="0" rx="49.5" ry="31.5" fill="url(#gVp)" stroke="#c0c0f0" stroke-width="0.8"/>
<ellipse cx="0" cy="0" rx="46.5" ry="29" fill="none" stroke="#1a1050" stroke-width="1"/>
<g clip-path="url(#vpClip)">
<ellipse cx="0" cy="-14" rx="40" ry="18" fill="#9c9cf4" stroke="#1a1060" stroke-width="1"/>
<ellipse cx="0" cy="-18" rx="36" ry="13.5" fill="#a6a6f8" stroke="#1a1060" stroke-width="1"/>
<ellipse cx="0" cy="-22" rx="32" ry="9.5" fill="#b0b0fa" stroke="#1a1060" stroke-width="1"/>
<path d="M -34,-27 A 32,7.5 0 0 0 34,-27 L 34,-40 L -34,-40 Z" fill="#6c7ca4"/>
<path d="M -32,-27 A 32,7.5 0 0 0 32,-27" fill="none" stroke="#f0922e" stroke-width="2.8"/>
<path d="M -32,-24.5 A 32,7.5 0 0 0 32,-24.5" fill="none" stroke="#5a2008" stroke-width="0.7"/>
</g>
</g>

</g><!--END DEVICE-->
<!-- labels -->
<g id="labels">
<text class="t" x="162.6" y="77" style="font-size:34.1px">2 x 1.33 CF Ports</text>
<text class="t" x="1372" y="51">6 CF Flange</text>
<text class="t" x="34" y="296">Internal Alignment</text>
<text class="t" x="34" y="336">System</text>
<text class="t" x="73" y="951">Source Cable</text>
<text class="t" x="73" y="990">Input</text>
<text class="t" x="619" y="1018">Insulator</text>
<text class="t" x="1623" y="945">Deflection Coils</text>
</g>
<g id="leaders" stroke="#000" stroke-width="4.2" fill="none" stroke-linecap="butt">
<polyline points="868.6,228.7 517.6,154 938.4,349.8"/>
<polyline points="572,393.5 318.4,351.6 578.2,746.3"/>
<line x1="274.2" y1="880.6" x2="389.2" y2="622.5"/>
<line x1="790.8" y1="975.6" x2="821.2" y2="575"/>
<line x1="1697" y1="61" x2="1809" y2="304"/>
<polyline points="1688.2,482.4 1797.6,880.6 1688.2,639.2"/>
<ellipse cx="1353.2" cy="578.5" rx="323.2" ry="221.5" stroke-width="5.1" transform="rotate(-0.8 1353.2 578.5)"/>
<line x1="1309" y1="801" x2="1219.5" y2="1287"/>
</g>
<polygon points="1205,1284 1232,1289 1210,1331" fill="#000"/>
</svg>
</body></html>
